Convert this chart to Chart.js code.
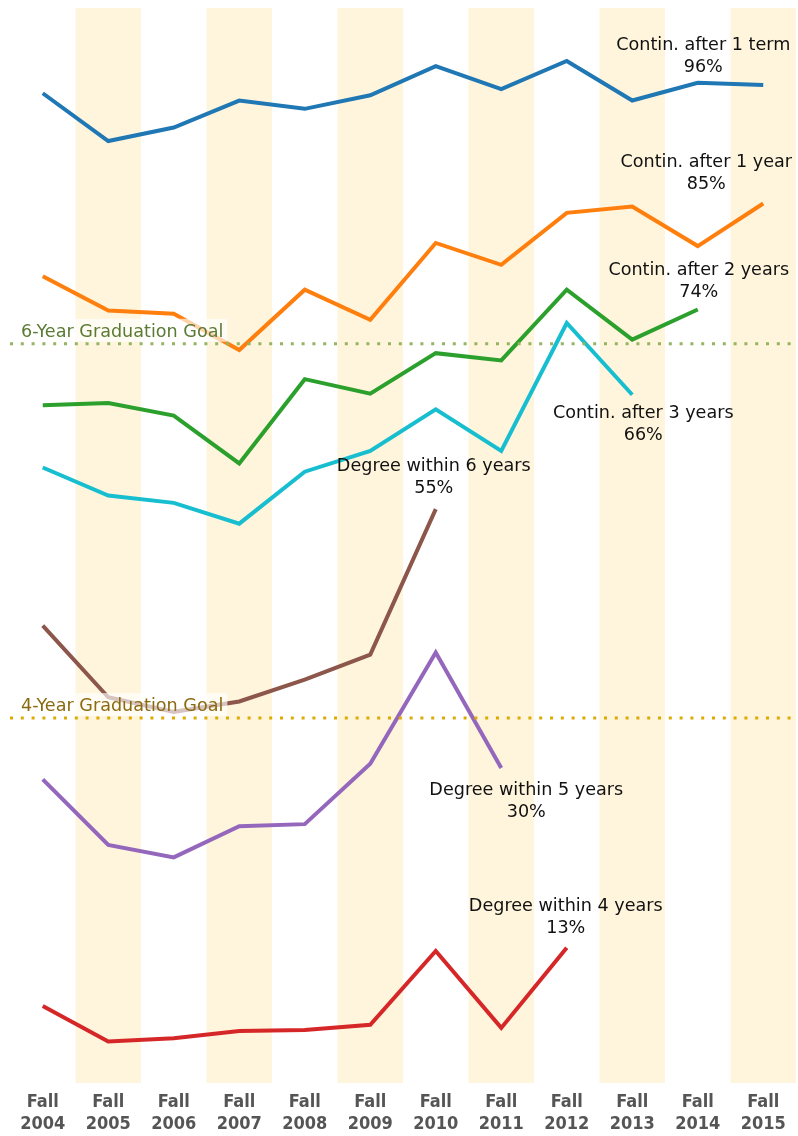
<!DOCTYPE html>
<html>
<head>
<meta charset="utf-8">
<script src="https://cdn.jsdelivr.net/npm/chart.js@4/dist/chart.umd.min.js"></script>
<style>
  html,body{margin:0;padding:0;background:#fff;}
</style>
</head>
<body>
<canvas id="chart" width="798" height="1136"></canvas>
<script>
// cohorts on the x axis
const cohorts = ["2004","2005","2006","2007","2008","2009","2010","2011","2012","2013","2014","2015"];
const shaded = ["2005","2007","2009","2011","2013","2015"];

// rates in percent
const contTerm  = [95.2, 90.6, 91.9, 94.5, 93.7, 95.0, 97.8, 95.6, 98.3, 94.5, 96.2, 96.0];
const contYear  = [77.6, 74.3, 74.0, 70.5, 76.3, 73.4, 80.8, 78.7, 83.7, 84.3, 80.5, 84.6];
const cont2Yrs  = [65.2, 65.4, 64.2, 59.6, 67.7, 66.3, 70.2, 69.5, 76.3, 71.5, 74.4, null];
const cont3Yrs  = [59.2, 56.5, 55.8, 53.8, 58.8, 60.8, 64.8, 60.8, 73.1, 66.2, null, null];
const degree6   = [44.0, 37.1, 35.7, 36.7, 38.8, 41.2, 55.2, null, null, null, null, null];
const degree5   = [29.2, 22.9, 21.7, 24.7, 24.9, 30.7, 41.4, 30.3, null, null, null, null];
const degree4   = [7.4, 4.0, 4.3, 5.0, 5.1, 5.6, 12.7, 5.3, 13.0, null, null, null];

const goal6 = 71.1, goal4 = 35.1;

const series = [
  {name:"Contin. after 1 term",  data:contTerm, color:"#1f77b4", last:"96%", dx:-60, dy:-40},
  {name:"Contin. after 1 year",  data:contYear, color:"#ff7f0e", last:"85%", dx:-57, dy:-41},
  {name:"Contin. after 2 years", data:cont2Yrs, color:"#2ca02c", last:"74%", dx:1,   dy:-39},
  {name:"Contin. after 3 years", data:cont3Yrs, color:"#17becf", last:"66%", dx:11,  dy:19},
  {name:"Degree within 6 years", data:degree6,  color:"#8c564b", last:"55%", dx:-2,  dy:-43},
  {name:"Degree within 5 years", data:degree5,  color:"#9467bd", last:"30%", dx:25,  dy:22},
  {name:"Degree within 4 years", data:degree4,  color:"#d62728", last:"13%", dx:-1,  dy:-41}
];

const bands = {
  id:"bands",
  beforeDatasetsDraw(c){
    const {ctx, chartArea:a, scales:{x}} = c;
    const w = x.getPixelForValue(1) - x.getPixelForValue(0);
    ctx.save();
    ctx.fillStyle = "#fff5dd";
    shaded.forEach(s=>{
      const px = x.getPixelForValue(cohorts.indexOf(s));
      ctx.fillRect(px - w/2, a.top, w, a.bottom - a.top);
    });
    ctx.restore();
  }
};

const goals = {
  id:"goals",
  afterDatasetsDraw(c){
    const {ctx, chartArea:a, scales:{y}} = c;
    const lines = [
      {v:goal6, text:"6-Year Graduation Goal", line:"#93b460", txt:"#5b7a35"},
      {v:goal4, text:"4-Year Graduation Goal", line:"#ddaa00", txt:"#8a6a10"}
    ];
    ctx.save();
    lines.forEach(g=>{
      const py = y.getPixelForValue(g.v);
      ctx.font = "17.6px 'DejaVu Sans'";
      const tw = ctx.measureText(g.text).width;
      ctx.fillStyle = "rgba(255,255,255,0.65)";
      ctx.fillRect(19, py - 25, tw + 6, 23);
      ctx.fillStyle = g.txt;
      ctx.textBaseline = "alphabetic";
      ctx.fillText(g.text, 21, py - 7);
      ctx.strokeStyle = g.line;
      ctx.lineWidth = 3;
      ctx.setLineDash([3, 7.8]);
      ctx.beginPath();
      ctx.moveTo(a.left, py);
      ctx.lineTo(a.right, py);
      ctx.stroke();
      ctx.setLineDash([]);
    });
    ctx.restore();
  }
};

const endLabels = {
  id:"endLabels",
  afterDatasetsDraw(c){
    const {ctx, scales:{x, y}} = c;
    ctx.save();
    ctx.font = "17.6px 'DejaVu Sans'";
    ctx.fillStyle = "#111";
    ctx.textAlign = "center";
    ctx.textBaseline = "middle";
    series.forEach(s=>{
      let i = s.data.length - 1;
      while(s.data[i] == null) i--;
      const px = x.getPixelForValue(i) + s.dx;
      const py = y.getPixelForValue(s.data[i]) + s.dy;
      ctx.fillText(s.name, px, py);
      ctx.fillText(s.last, px, py + 22);
    });
    ctx.restore();
  }
};

new Chart(document.getElementById("chart"), {
  type:"line",
  data:{
    labels: cohorts.map(c=>["Fall", c]),
    datasets: series.map(s=>({
      label:s.name, data:s.data, borderColor:s.color, backgroundColor:s.color,
      borderWidth:4, pointRadius:0, tension:0, spanGaps:false
    }))
  },
  options:{
    responsive:false,
    animation:false,
    layout:{padding:{top:8, left:10, right:2, bottom:0}},
    plugins:{legend:{display:false}, tooltip:{enabled:false}},
    scales:{
      x:{
        offset:true,
        grid:{display:false, drawTicks:false},
        border:{display:false},
        ticks:{color:"#555", font:{family:"'DejaVu Sans Condensed', 'DejaVu Sans'", size:18, weight:"bold", lineHeight:1.25}, padding:8, maxRotation:0, autoSkip:false},
        afterFit(s){ s.height = 53; }
      },
      y:{display:false, min:0, max:103.4}
    }
  },
  plugins:[bands, goals, endLabels]
});
</script>
</body>
</html>
